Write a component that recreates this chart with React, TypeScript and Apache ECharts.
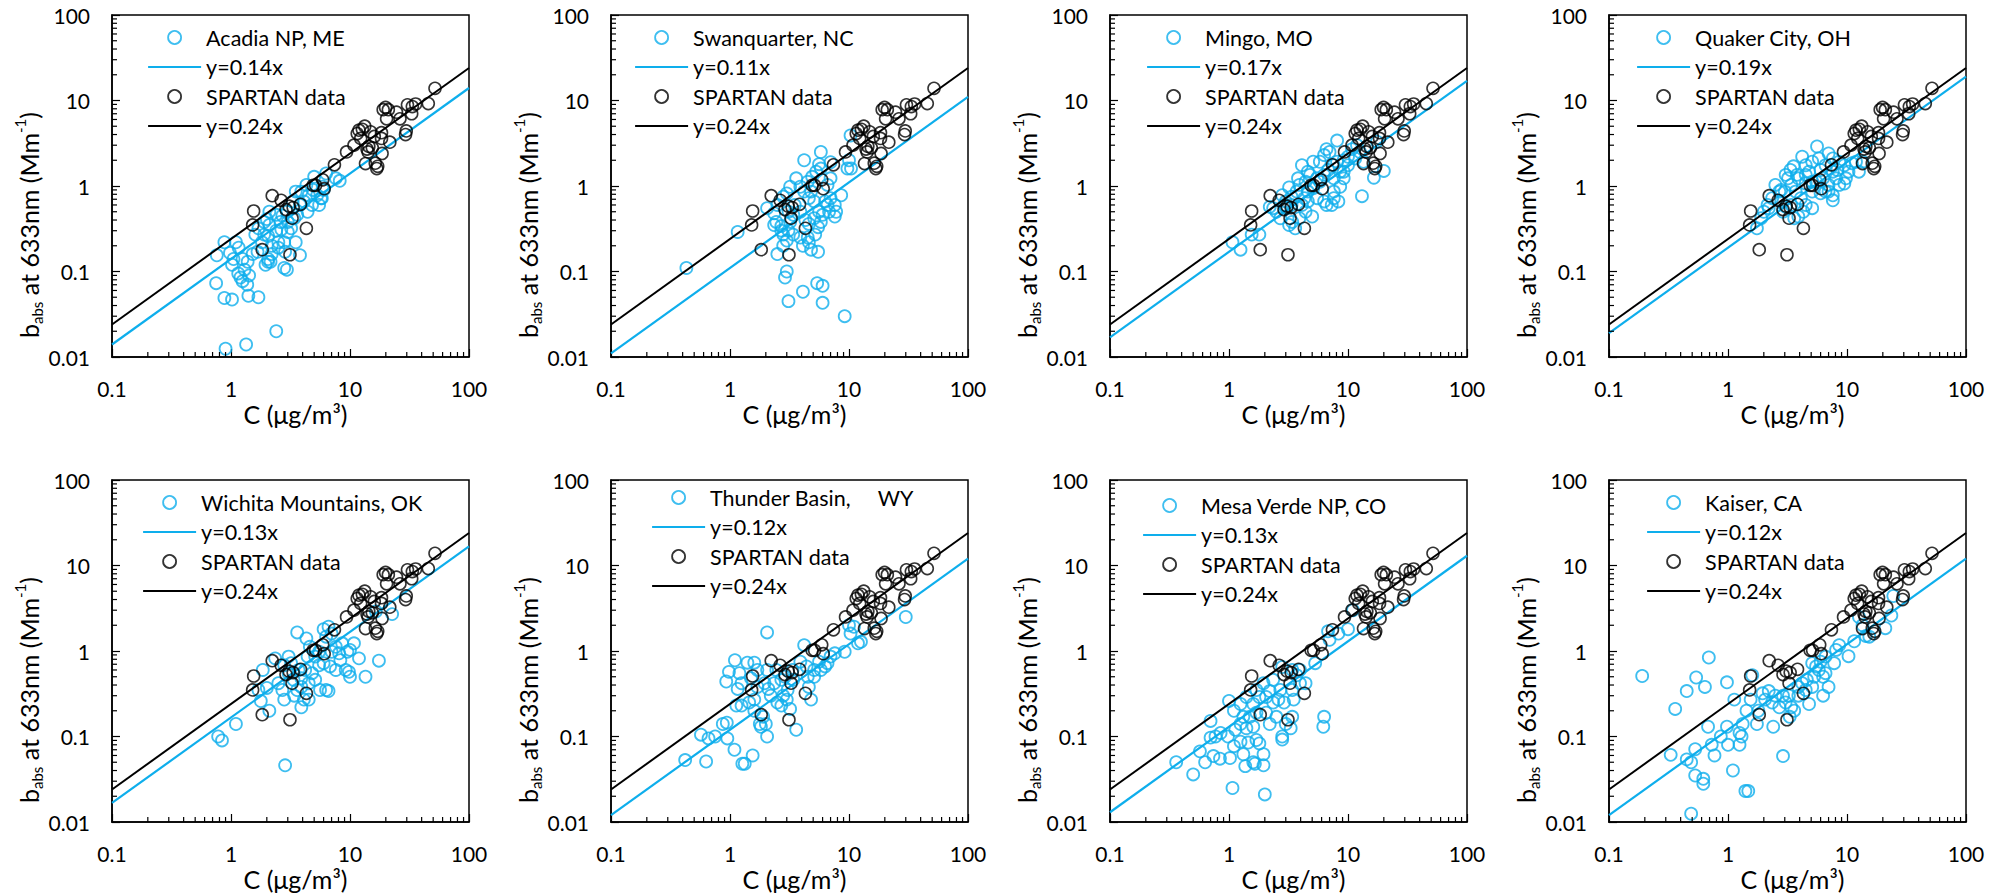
import React, { useEffect, useRef } from "react";
import * as echarts from "echarts";

// ---------- data ----------
const siteNames = [
  "Acadia NP, ME",
  "Swanquarter, NC",
  "Mingo, MO",
  "Quaker City, OH",
  "Wichita Mountains, OK",
  "Thunder Basin,     WY",
  "Mesa Verde NP, CO",
  "Kaiser, CA",
];
// slope quoted in each legend
const siteSlopeLabels = [0.14, 0.11, 0.17, 0.19, 0.13, 0.12, 0.13, 0.12];
// slope of the drawn fit line (as plotted in the figure)
const siteLineSlopes = [0.14, 0.11, 0.17, 0.19, 0.167, 0.12, 0.13, 0.12];
const spartanName = "SPARTAN data";
const spartanSlope = 0.24;

const xTickLabels = [0.1, 1, 10, 100];
const yTickLabels = [0.01, 0.1, 1, 10, 100];
const xMinorTicks = [0.2, 0.3, 0.4, 0.5, 0.6, 0.7, 0.8, 0.9, 2, 3, 4, 5, 6, 7, 8, 9, 20, 30, 40, 50, 60, 70, 80, 90];
const yMinorTicks = [0.02, 0.03, 0.04, 0.05, 0.06, 0.07, 0.08, 0.09, 0.2, 0.3, 0.4, 0.5, 0.6, 0.7, 0.8, 0.9, 2, 3, 4, 5, 6, 7, 8, 9, 20, 30, 40, 50, 60, 70, 80, 90];

const spartan = [
  [51.8, 13.9], [45.5, 9.2], [35.6, 9.1], [33.4, 8.5], [30.4, 8.9], [33, 7.0], [26.3, 6.1], [24.6, 7.3],
  [19.9, 8.3], [21, 7.8], [19, 7.8], [20.3, 6.1], [29.7, 4.4], [29.3, 4.0], [21.6, 3.25], [18.4, 4.2],
  [18.4, 3.6], [14.9, 4.3], [13.3, 5.0], [11.9, 4.5], [11.5, 4.1], [12.3, 3.6], [10.8, 3.0], [9.35, 2.5],
  [14.4, 2.9], [14.2, 2.5], [13.9, 2.7], [15.4, 2.8], [18.6, 2.4], [13.5, 1.83], [16.3, 1.85], [16.8, 1.6],
  [17.1, 1.7], [7.4, 1.77], [6.07, 0.93], [5.9, 1.18], [5.14, 1.02], [4.9, 1.02], [3.84, 0.61], [3.33, 0.56],
  [3.08, 0.58], [2.9, 0.53], [2.64, 0.68], [2.22, 0.77], [3.26, 0.42], [1.55, 0.51], [1.52, 0.35], [4.3, 0.32],
  [1.83, 0.18], [3.13, 0.157], [12.7, 4.6], [16, 3.8],
];

const acadia = [
  [0.9, 0.0125], [1.34, 0.014], [2.4, 0.02], [0.75, 0.073], [0.88, 0.049], [1.02, 0.047], [1.4, 0.052], [1.7, 0.05],
  [0.76, 0.155], [0.88, 0.22], [1.1, 0.22], [0.98, 0.165], [1.05, 0.14], [1.02, 0.12], [1.16, 0.19], [1.25, 0.14],
  [1.15, 0.095], [1.2, 0.085], [1.25, 0.077], [1.37, 0.07], [1.42, 0.09], [1.3, 0.105], [1.38, 0.13], [1.52, 0.16],
  [1.67, 0.17], [1.95, 0.12], [2.05, 0.14], [2.2, 0.16], [2.15, 0.13], [2.8, 0.11], [2.95, 0.105], [2.8, 0.22],
  [3.5, 0.22], [3.8, 0.155], [2.5, 0.19], [1.82, 0.22], [1.6, 0.27], [1.7, 0.32], [1.9, 0.38], [2.0, 0.41],
  [2.1, 0.35], [2.4, 0.3], [2.6, 0.38], [2.65, 0.31], [2.1, 0.5], [2.4, 0.46], [2.7, 0.45], [1.9, 0.27],
  [2.05, 0.26], [2.2, 0.2], [3.0, 0.29], [3.2, 0.32], [3.4, 0.42], [3.6, 0.46], [3.8, 0.6], [4.1, 0.66],
  [4.4, 0.5], [4.8, 0.6], [4.5, 0.78], [4.9, 0.9], [4.3, 1.03], [5.0, 1.28], [5.9, 0.98], [5.7, 0.72],
  [6.0, 0.9], [6.3, 1.4], [7.6, 1.23], [8.2, 1.15], [5.5, 0.6], [5.3, 0.78], [5.8, 0.72], [3.5, 0.86],
  [3.9, 0.86], [3.3, 0.66], [2.95, 0.5], [3.0, 0.38], [2.5, 0.22], [2.05, 0.13], [2.85, 0.17],
];

const swanquarter = [
  [0.43, 0.11], [1.16, 0.29], [2.05, 0.55], [2.5, 0.6], [2.35, 0.48], [2.45, 0.38], [2.7, 0.34], [2.8, 0.27],
  [3.0, 0.23], [2.8, 0.2], [2.5, 0.16], [3.0, 0.1], [2.9, 0.085], [3.1, 0.045], [4.1, 0.058], [5.4, 0.073],
  [6.0, 0.068], [6.0, 0.043], [9.2, 0.03], [3.2, 0.38], [3.4, 0.27], [4.1, 0.2], [4.6, 0.22], [4.8, 0.18],
  [5.5, 0.17], [4.5, 0.25], [5.2, 0.27], [5.5, 0.33], [5.8, 0.38], [5.6, 0.5], [6.8, 0.5], [7.6, 0.44],
  [7.6, 0.6], [8.6, 0.78], [7.0, 0.72], [6.3, 0.66], [5.1, 0.66], [4.6, 0.72], [4.2, 0.86], [3.9, 0.98],
  [3.6, 1.23], [3.2, 0.98], [3.0, 0.82], [2.8, 0.75], [3.5, 0.6], [3.9, 0.5], [3.4, 0.46], [4.5, 1.12],
  [4.9, 1.28], [5.3, 1.47], [5.8, 1.6], [5.6, 1.8], [5.8, 2.5], [4.2, 2.0], [7.0, 1.9], [6.6, 1.03],
  [7.0, 1.23], [9.7, 1.6], [10.4, 1.6], [10, 2.0], [10.3, 3.9], [3.1, 0.5], [2.35, 0.35], [2.7, 0.3],
  [3.1, 0.3], [3.9, 0.25], [4.6, 0.36], [4.3, 0.4], [5.1, 0.42], [6.0, 0.46], [6.6, 0.6], [7.8, 0.5], [4.8, 0.86],
];

const mingo = [
  [1.07, 0.22], [1.25, 0.18], [1.55, 0.27], [1.8, 0.27], [2.2, 0.57], [2.5, 0.5], [2.7, 0.42], [2.8, 0.78],
  [3.2, 0.96], [3.0, 0.66], [3.35, 0.6], [3.4, 0.38], [3.2, 0.35], [3.6, 0.32], [3.9, 0.42], [4.4, 0.5],
  [5.0, 0.44], [4.3, 0.72], [4.6, 0.86], [3.9, 1.03], [3.8, 1.23], [4.1, 1.75], [4.6, 1.47], [5.1, 1.92],
  [5.8, 1.92], [5.5, 1.23], [5.1, 0.94], [5.5, 0.72], [6.3, 0.66], [6.6, 0.6], [7.3, 0.6], [8.3, 0.66],
  [7.6, 0.86], [8.6, 0.98], [9.2, 1.23], [7.6, 1.23], [6.8, 1.54], [8.1, 1.92], [9.2, 2.0], [10, 1.75],
  [10, 2.2], [8.1, 3.4], [7.0, 2.5], [6.6, 2.7], [10.8, 2.7], [11.9, 3.0], [11.5, 2.1], [12.6, 2.5],
  [13.5, 1.92], [16.5, 1.25], [20, 1.5], [17.5, 3.3], [13.1, 0.76], [8.6, 1.47], [6.3, 1.35], [4.8, 1.35],
  [4.4, 1.12], [3.7, 0.86], [3.05, 0.55], [2.35, 0.55], [3.35, 0.75], [5.8, 1.12], [7.6, 1.75], [9.2, 1.47],
  [6.3, 2.3], [4.1, 0.6], [4.6, 0.66], [7.6, 0.72], [2.9, 0.6],
];

const quakerCity = [
  [1.75, 0.32], [1.9, 0.42], [2.0, 0.5], [2.15, 0.6], [2.5, 1.03], [2.8, 0.9], [3.0, 0.86], [3.2, 1.23],
  [3.35, 1.54], [3.55, 1.7], [3.8, 1.35], [4.2, 2.2], [4.5, 1.75], [4.8, 1.47], [5.1, 1.92], [5.6, 2.9],
  [5.8, 2.1], [7.0, 2.4], [7.6, 2.1], [8.6, 1.92], [9.5, 1.75], [9.8, 1.23], [9.5, 1.07], [11, 1.85],
  [12.6, 1.47], [13.5, 1.92], [7.6, 1.47], [8.1, 1.23], [7.0, 1.03], [7.6, 0.78], [7.6, 0.68], [7.0, 0.86],
  [6.0, 0.82], [5.1, 0.86], [5.1, 0.55], [4.5, 0.6], [3.9, 0.44], [4.1, 0.72], [3.7, 0.86], [3.4, 0.6],
  [3.05, 0.57], [2.8, 0.66], [2.35, 0.72], [2.2, 0.55], [2.9, 0.5], [4.5, 1.07], [3.9, 1.23], [5.5, 1.12],
  [6.3, 1.23], [6.0, 1.54], [4.5, 1.35], [3.4, 1.03], [3.05, 1.35], [5.1, 1.12], [6.6, 1.75], [8.3, 1.54],
  [10.3, 1.47], [4.3, 0.5], [3.6, 0.42], [6.6, 0.86], [8.6, 1.03], [2.7, 0.86], [11.9, 1.92],
];

const wichita = [
  [0.78, 0.1], [0.84, 0.09], [1.1, 0.14], [2.85, 0.046], [1.78, 0.26], [1.7, 0.35], [1.85, 0.6], [2.1, 0.2],
  [2.0, 0.37], [2.35, 0.82], [2.5, 0.42], [2.7, 0.35], [2.8, 0.27], [3.05, 0.86], [3.2, 0.72], [3.35, 0.46],
  [3.4, 0.3], [3.6, 0.35], [3.9, 0.22], [4.1, 0.27], [4.5, 0.27], [3.6, 1.65], [4.3, 1.4], [4.6, 1.12],
  [4.4, 0.86], [4.2, 0.6], [4.8, 0.55], [5.1, 0.46], [5.6, 0.35], [6.3, 0.35], [6.6, 0.34], [5.5, 0.68],
  [6.0, 0.72], [6.8, 0.66], [7.6, 0.6], [8.3, 0.78], [9.8, 0.57], [10, 0.5], [9.2, 0.6], [9.5, 0.98],
  [10.8, 1.23], [11.9, 0.82], [13.5, 0.5], [17.5, 0.77], [10, 1.03], [8.6, 1.23], [7.0, 1.6], [6.0, 1.8],
  [6.6, 1.92], [6.3, 1.47], [7.6, 1.12], [7.0, 0.98], [8.1, 0.94], [5.5, 0.98], [5.1, 0.86], [22.6, 2.7],
  [16.5, 2.9], [3.7, 0.6], [3.05, 0.55], [2.8, 0.68], [3.9, 0.38], [4.5, 0.42], [3.9, 0.48],
];

const thunderBasin = [
  [0.42, 0.053], [0.57, 0.105], [0.63, 0.051], [0.66, 0.095], [0.75, 0.1], [0.95, 0.095], [1.09, 0.07], [1.27, 0.048],
  [1.33, 0.048], [1.55, 0.06], [0.87, 0.14], [0.94, 0.145], [1.1, 0.78], [0.98, 0.57], [0.93, 0.44], [1.2, 0.55],
  [1.16, 0.36], [1.25, 0.42], [1.4, 0.73], [1.6, 0.73], [1.5, 0.48], [1.13, 0.23], [1.25, 0.23], [1.45, 0.25],
  [1.6, 0.27], [1.7, 0.38], [1.78, 0.14], [1.82, 0.13], [2.0, 0.14], [2.05, 0.1], [2.05, 1.65], [1.95, 0.42],
  [2.1, 0.36], [2.2, 0.3], [2.35, 0.42], [2.5, 0.25], [2.7, 0.23], [2.8, 0.3], [3.0, 0.27], [3.2, 0.21],
  [3.05, 0.35], [2.9, 0.5], [3.4, 0.46], [3.6, 0.12], [4.2, 1.17], [3.9, 0.75], [4.4, 0.66], [4.5, 0.5],
  [4.8, 0.27], [4.6, 0.38], [5.1, 0.6], [5.6, 0.75], [5.8, 0.6], [6.3, 0.66], [6.6, 0.72], [7.0, 0.86],
  [7.6, 0.94], [9.2, 0.98], [10.3, 1.6], [11, 1.92], [11.9, 1.23], [12.6, 1.28], [10, 2.0], [30, 2.5],
  [5.1, 0.5], [2.45, 0.6], [2.05, 0.6], [1.6, 0.2], [1.9, 0.17], [2.7, 0.46], [3.35, 0.6], [1.7, 0.6],
];

const mesaVerde = [
  [0.36, 0.05], [0.5, 0.036], [0.63, 0.05], [0.57, 0.067], [0.7, 0.152], [0.7, 0.097], [0.77, 0.1], [0.85, 0.11],
  [0.74, 0.059], [0.84, 0.055], [1.02, 0.056], [1.07, 0.025], [2.0, 0.021], [1.0, 0.26], [1.1, 0.2], [1.13, 0.12],
  [1.1, 0.077], [1.25, 0.087], [1.37, 0.045], [1.32, 0.062], [1.45, 0.085], [1.6, 0.05], [1.8, 0.083], [1.95, 0.062],
  [1.95, 0.046], [1.65, 0.048], [1.25, 0.14], [1.4, 0.125], [1.6, 0.13], [1.5, 0.17], [1.25, 0.24], [1.4, 0.29],
  [1.6, 0.24], [1.8, 0.29], [1.7, 0.35], [1.95, 0.42], [2.05, 0.19], [2.2, 0.14], [2.35, 0.25], [2.2, 0.34],
  [2.35, 0.46], [2.6, 0.27], [2.7, 0.35], [2.9, 0.25], [2.8, 0.1], [2.8, 0.092], [3.0, 0.14], [3.3, 0.125],
  [3.4, 0.17], [3.5, 0.27], [3.4, 0.35], [3.95, 0.42], [3.7, 0.52], [4.4, 0.42], [3.4, 0.6], [2.8, 0.65],
  [3.95, 0.6], [5.3, 0.72], [6.3, 0.17], [6.2, 0.13], [6.8, 1.7], [8.3, 1.6], [10, 1.8], [11, 3.0],
  [7.0, 1.35], [2.05, 0.29], [1.7, 0.19], [1.32, 0.17], [2.5, 0.17], [0.98, 0.1], [1.7, 0.091],
];

const kaiser = [
  [0.19, 0.51], [0.36, 0.21], [0.45, 0.34], [0.54, 0.49], [0.64, 0.38], [0.69, 0.84], [0.98, 0.43], [0.33, 0.061],
  [0.49, 0.05], [0.53, 0.071], [0.53, 0.035], [0.62, 0.032], [0.62, 0.028], [0.49, 0.0125], [0.68, 0.13], [0.77, 0.06],
  [0.73, 0.08], [0.87, 0.1], [0.98, 0.13], [1.0, 0.08], [1.1, 0.04], [1.13, 0.27], [1.25, 0.11], [1.25, 0.08],
  [1.33, 0.14], [1.4, 0.023], [1.48, 0.023], [1.43, 0.2], [1.6, 0.52], [1.75, 0.14], [1.55, 0.27], [1.95, 0.32],
  [2.05, 0.27], [2.2, 0.34], [2.35, 0.25], [2.4, 0.13], [2.5, 0.3], [2.7, 0.22], [2.9, 0.059], [2.9, 0.3],
  [3.05, 0.25], [3.25, 0.3], [3.4, 0.22], [3.6, 0.2], [3.9, 0.3], [3.9, 0.38], [4.8, 0.24], [4.5, 0.35],
  [5.1, 0.38], [4.6, 0.46], [5.3, 0.5], [6.3, 0.3], [5.8, 0.6], [6.3, 0.5], [6.6, 0.55], [5.1, 0.72],
  [5.5, 0.66], [6.0, 0.75], [6.6, 0.86], [7.8, 0.72], [8.1, 1.03], [8.6, 1.17], [10.3, 0.87], [11.5, 1.3],
  [13.5, 2.0], [14.4, 1.5], [15.4, 1.47], [21, 1.85], [23.6, 2.6], [24.5, 4.4], [12.6, 2.5], [7.0, 0.38],
  [4.2, 0.42], [3.3, 0.17], [1.8, 0.2], [1.3, 0.1], [0.45, 0.054],
];

const siteData = [acadia, swanquarter, mingo, quakerCity, wichita, thunderBasin, mesaVerde, kaiser];

// ---------- layout ----------
const colLeft = [112, 611, 1110, 1609];
const rowTop = [15, 480];
const plotW = 357;
const plotH = 342;
const legendOffset = [[35, 22], [23, 22], [36, 22], [27, 22], [30, 22], [40, 17], [32, 25], [37, 22]];

const BLUE = "#0EAEEC";
const BLACK = "#000000";
const FONT = 'Lato, "Open Sans", sans-serif';

function slopeName(s: number) {
  return `y=${s.toFixed(2)}x`;
}

const hiddenDot = { color: "rgba(0,0,0,0)", borderWidth: 0, opacity: 0 };

function buildOption() {
  const grid: any[] = [];
  const xAxis: any[] = [];
  const yAxis: any[] = [];
  const series: any[] = [];
  const legend: any[] = [];
  const xMin = xTickLabels[0];
  const xMax = xTickLabels[xTickLabels.length - 1];

  siteNames.forEach((site, i) => {
    const c = i % 4;
    const r = Math.floor(i / 4);
    const left = colLeft[c];
    const top = rowTop[r];
    grid.push({
      left,
      top,
      width: plotW,
      height: plotH,
      show: true,
      borderColor: BLACK,
      borderWidth: 1.5,
      backgroundColor: "transparent",
      containLabel: false,
    });
    xAxis.push({
      type: "log",
      logBase: 10,
      gridIndex: i,
      min: xMin,
      max: xMax,
      axisLine: { show: true, lineStyle: { color: BLACK, width: 1.5 } },
      axisTick: { show: true, inside: true, length: 8, lineStyle: { color: BLACK, width: 1.2 } },
      axisLabel: { color: BLACK, fontSize: 21, fontFamily: FONT, margin: 21, showMinLabel: true, showMaxLabel: true },
      splitLine: { show: false },
      minorTick: { show: false },
      name: "C (μg/m³)",
      nameLocation: "middle",
      nameGap: 44,
      nameTextStyle: { color: BLACK, fontSize: 25, fontFamily: FONT, padding: [0, 0, 0, 10] },
    });
    yAxis.push({
      type: "log",
      logBase: 10,
      gridIndex: i,
      min: yTickLabels[0],
      max: yTickLabels[yTickLabels.length - 1],
      axisLine: { show: true, lineStyle: { color: BLACK, width: 1.5 } },
      axisTick: { show: true, inside: true, length: 8, lineStyle: { color: BLACK, width: 1.2 } },
      axisLabel: { color: BLACK, fontSize: 21, fontFamily: FONT, margin: 22, showMinLabel: true, showMaxLabel: true },
      splitLine: { show: false },
      minorTick: { show: false },
      name: "{m|b}{s|abs}{m| at 633nm (Mm}{p|-1}{m|)}",
      nameLocation: "middle",
      nameGap: 62,
      nameTextStyle: {
        color: BLACK,
        fontFamily: FONT,
        padding: [0, 78, 0, 0],
        rich: {
          m: { fontSize: 25, lineHeight: 32, fontFamily: FONT, color: BLACK },
          s: { fontSize: 15, lineHeight: 16, verticalAlign: "bottom", fontFamily: FONT, color: BLACK },
          p: { fontSize: 15, lineHeight: 16, verticalAlign: "top", fontFamily: FONT, color: BLACK },
        },
      },
    });

    // minor ticks (x at bottom, y at left) drawn through the axes' scales
    series.push({
      type: "custom",
      xAxisIndex: i,
      yAxisIndex: i,
      silent: true,
      z: 5,
      data: xMinorTicks.map((v) => [v, yTickLabels[0]]),
      renderItem: (_p: any, api: any) => {
        const pt = api.coord([api.value(0), api.value(1)]);
        return {
          type: "line",
          shape: { x1: pt[0], y1: pt[1], x2: pt[0], y2: pt[1] - 5 },
          style: { stroke: BLACK, lineWidth: 1.2 },
        };
      },
    });
    series.push({
      type: "custom",
      xAxisIndex: i,
      yAxisIndex: i,
      silent: true,
      z: 5,
      data: yMinorTicks.map((v) => [xMin, v]),
      renderItem: (_p: any, api: any) => {
        const pt = api.coord([api.value(0), api.value(1)]);
        return {
          type: "line",
          shape: { x1: pt[0], y1: pt[1], x2: pt[0] + 5, y2: pt[1] },
          style: { stroke: BLACK, lineWidth: 1.2 },
        };
      },
    });

    const label = slopeName(siteSlopeLabels[i]);
    const k = siteLineSlopes[i];
    series.push({
      type: "scatter",
      name: site,
      xAxisIndex: i,
      yAxisIndex: i,
      data: siteData[i],
      symbol: "circle",
      symbolSize: 12,
      color: BLUE,
      itemStyle: { color: "rgba(0,0,0,0)", borderColor: BLUE, borderWidth: 1.8 },
      z: 2,
    });
    series.push({
      type: "line",
      name: label,
      xAxisIndex: i,
      yAxisIndex: i,
      data: [
        [xMin, xMin * k],
        [xMax, xMax * k],
      ],
      symbol: "none",
      color: BLUE,
      lineStyle: { color: BLUE, width: 2.2 },
      z: 3,
    });
    series.push({
      type: "scatter",
      name: spartanName,
      xAxisIndex: i,
      yAxisIndex: i,
      data: spartan,
      symbol: "circle",
      symbolSize: 12,
      color: BLACK,
      itemStyle: { color: "rgba(0,0,0,0)", borderColor: BLACK, borderWidth: 1.6 },
      z: 4,
    });
    series.push({
      type: "line",
      name: slopeName(spartanSlope),
      xAxisIndex: i,
      yAxisIndex: i,
      data: [
        [xMin, xMin * spartanSlope],
        [xMax, xMax * spartanSlope],
      ],
      symbol: "none",
      color: BLACK,
      lineStyle: { color: BLACK, width: 2 },
      z: 4,
    });

    const [dx, dy] = legendOffset[i];
    legend.push({
      data: [
        { name: site },
        { name: label, itemStyle: hiddenDot, lineStyle: { color: BLUE, width: 2.2 } },
        { name: spartanName },
        { name: slopeName(spartanSlope), itemStyle: hiddenDot, lineStyle: { color: BLACK, width: 2 } },
      ],
      orient: "vertical",
      left: left + dx,
      top: top + dy - 10.5,
      padding: 0,
      itemWidth: 53,
      itemHeight: 13,
      itemGap: 7.5,
      selectedMode: false,
      textStyle: { color: BLACK, fontSize: 21.5, fontFamily: FONT, lineHeight: 21 },
      itemStyle: { borderWidth: 1.8 },
      lineStyle: { width: 2.2 },
    });
  });

  return { animation: false, backgroundColor: "#ffffff", grid, xAxis, yAxis, series, legend };
}

export default function App() {
  const ref = useRef<HTMLDivElement>(null);
  useEffect(() => {
    if (!ref.current) return;
    const chart = echarts.init(ref.current, undefined, { renderer: "svg" });
    chart.setOption(buildOption() as any);
    return () => chart.dispose();
  }, []);
  return (
    <div
      ref={ref}
      style={{ position: "absolute", left: 0, top: 0, width: 1997, height: 894, background: "#fff" }}
    />
  );
}
